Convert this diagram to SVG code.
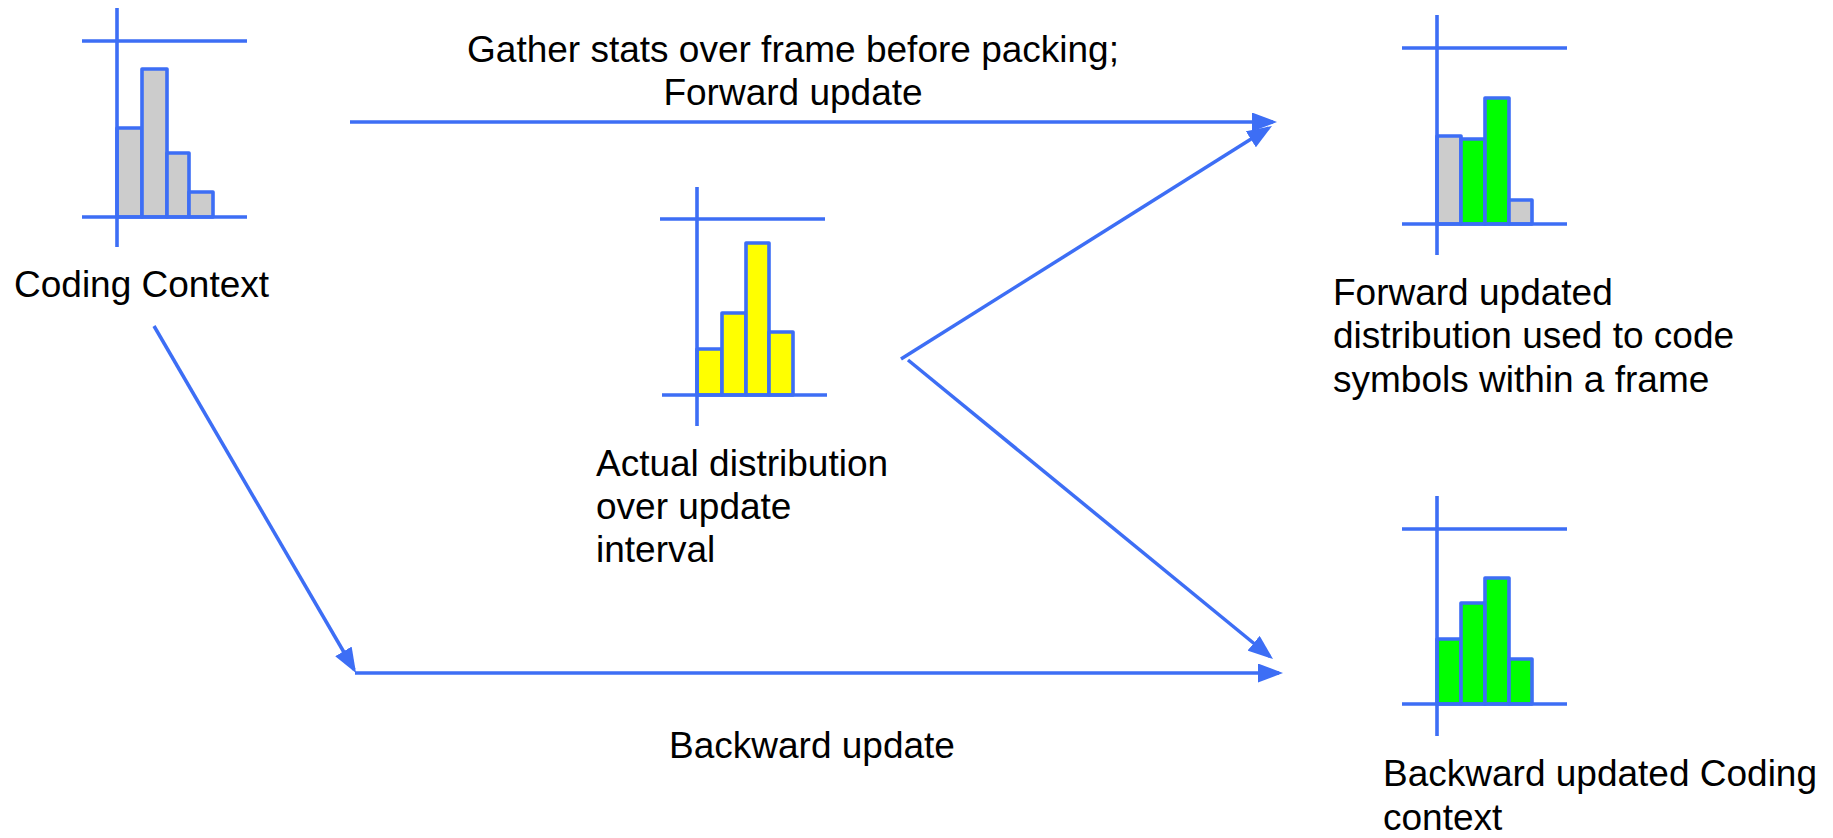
<svg xmlns="http://www.w3.org/2000/svg" width="1833" height="838" viewBox="0 0 1833 838">
<style>
.ax{stroke:#3d6ef5;stroke-width:3.6;fill:none}
.bar{stroke:#3d6ef5;stroke-width:3.6;stroke-linejoin:round}
.g{fill:#cccccc}.gr{fill:#00ff00}.y{fill:#ffff00}
.cn{stroke:#3d6ef5;stroke-width:3.5;fill:none;marker-end:url(#ah)}
text{font-family:"Liberation Sans",Arial,sans-serif;font-size:37px;fill:#000}
</style>
<defs>
<marker id="ah" markerUnits="userSpaceOnUse" markerWidth="25" markerHeight="19" refX="21" refY="9.5" orient="auto">
<path d="M0,0 L25,9.5 L0,19 z" fill="#3d6ef5"/>
</marker>
</defs>
<rect width="1833" height="838" fill="#fff"/>
<g id="coding-context">
<rect class="bar g" x="117" y="128" width="25" height="89"/>
<rect class="bar g" x="142" y="69" width="25" height="148"/>
<rect class="bar g" x="167" y="153" width="22" height="64"/>
<rect class="bar g" x="189" y="192" width="24" height="25"/>
<path class="ax" d="M117,8 V247 M82,41 H247 M82,217 H247"/>
<text x="14" y="297">Coding Context</text>
</g>
<g id="actual-distribution">
<rect class="bar y" x="697" y="349" width="25" height="46"/>
<rect class="bar y" x="722" y="313" width="24" height="82"/>
<rect class="bar y" x="746" y="243" width="23" height="152"/>
<rect class="bar y" x="769" y="332" width="24" height="63"/>
<path class="ax" d="M697,187 V426 M660,219 H825 M662,395 H827"/>
<text x="596" y="476">Actual distribution</text>
<text x="596" y="519">over update</text>
<text x="596" y="562">interval</text>
</g>
<g id="forward-updated">
<rect class="bar g" x="1437" y="136" width="24" height="88"/>
<rect class="bar gr" x="1461" y="139" width="24" height="85"/>
<rect class="bar gr" x="1485" y="98" width="24" height="126"/>
<rect class="bar g" x="1509" y="200" width="23" height="24"/>
<path class="ax" d="M1437,15 V255 M1402,48 H1567 M1402,224 H1567"/>
<text x="1333" y="305">Forward updated</text>
<text x="1333" y="348">distribution used to code</text>
<text x="1333" y="392">symbols within a frame</text>
</g>
<g id="backward-updated">
<rect class="bar gr" x="1437" y="639" width="24" height="65"/>
<rect class="bar gr" x="1461" y="603" width="24" height="101"/>
<rect class="bar gr" x="1485" y="578" width="24" height="126"/>
<rect class="bar gr" x="1509" y="659" width="23" height="45"/>
<path class="ax" d="M1437,496 V736 M1402,529 H1567 M1402,704 H1567"/>
<text x="1383" y="786">Backward updated Coding</text>
<text x="1383" y="830">context</text>
</g>
<g id="connectors">
<line class="cn" x1="350" y1="122" x2="1273" y2="122"/>
<line class="cn" x1="901" y1="359" x2="1268.6" y2="128.1"/>
<line class="cn" x1="908" y1="360" x2="1269.9" y2="656.5"/>
<line class="cn" x1="154" y1="326" x2="354" y2="669.5"/>
<line class="cn" x1="355" y1="673" x2="1279" y2="673"/>
<text x="793" y="62" text-anchor="middle">Gather stats over frame before packing;</text>
<text x="793" y="105" text-anchor="middle">Forward update</text>
<text x="812" y="758" text-anchor="middle">Backward update</text>
</g>
</svg>
